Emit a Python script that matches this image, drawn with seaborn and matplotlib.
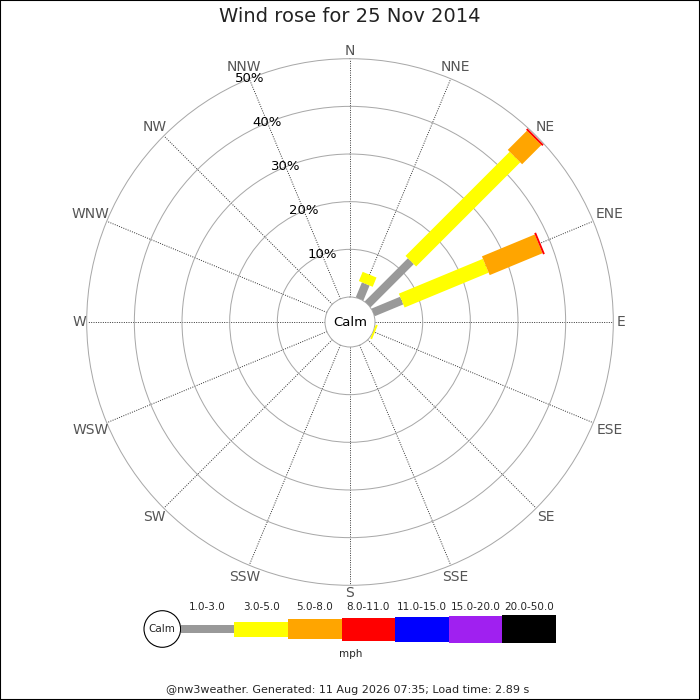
import numpy as np
import matplotlib
matplotlib.use('Agg')
import matplotlib.pyplot as plt
from matplotlib.patches import Circle, Rectangle
import seaborn as sns

sns.set_style('white')
plt.rcParams['font.family'] = ['DejaVu Sans']

# ---- data (percent of the day, per direction and speed class) ----
DIRS = ['N', 'NNE', 'NE', 'ENE', 'E', 'ESE', 'SE', 'SSE',
        'S', 'SSW', 'SW', 'WSW', 'W', 'WNW', 'NW', 'NNW']
SPEED_CLASSES = ['1.0-3.0', '3.0-5.0', '5.0-8.0', '8.0-11.0',
                 '11.0-15.0', '15.0-20.0', '20.0-50.0']
spd_1_3   = [0, 3.4, 12.8, 6.5, 0, 0.0, 0, 0, 0, 0, 0, 0, 0, 0, 0, 0]
spd_3_5   = [0, 2.1, 30.9, 19.1, 0, 0.4, 0, 0, 0, 0, 0, 0, 0, 0, 0, 0]
spd_5_8   = [0, 0.0, 5.7, 12.0, 0, 0.0, 0, 0, 0, 0, 0, 0, 0, 0, 0, 0]
spd_8_11  = [0, 0.0, 0.4, 0.4, 0, 0.0, 0, 0, 0, 0, 0, 0, 0, 0, 0, 0]
spd_11_15 = [0] * 16
spd_15_20 = [0] * 16
spd_20_50 = [0] * 16
RINGS = [10, 20, 30, 40, 50]

series = [spd_1_3, spd_3_5, spd_5_8, spd_8_11, spd_11_15, spd_15_20, spd_20_50]

# ---- styles ----
COLORS = ['#999999', '#ffff00', '#ffa500', '#ff0000', '#0000ff', '#a020f0', '#000000']
THICK_PX = [8.3, 15, 20.3, 23, 25, 27, 28.7]
PX2PT = 0.72

W, H = 700, 700
fig = plt.figure(figsize=(7, 7), dpi=100)

# polar rose: centre (350, 322) px, 50% ring at 263.3 px, calm hole 25 px
cx, cy, R, HOLE = 350, 322, 263.3, 25
ax = fig.add_axes([(cx - R) / W, (H - cy - R) / H, 2 * R / W, 2 * R / H],
                  projection='polar')
ax.set_theta_zero_location('N')
ax.set_theta_direction(-1)
ax.set_ylim(0, 50)
r0 = -50 * HOLE / (R - HOLE)
ax.set_rorigin(r0)


def px_to_r(px):
    return px / R * (50 - r0) + r0


theta = np.deg2rad(np.arange(len(DIRS)) * 22.5)
ax.set_xticks(theta)
ax.set_xticklabels([])
ax.set_yticks(RINGS[:-1])
ax.set_yticklabels([])
ax.xaxis.grid(True, color='#333333', linestyle=(0, (1, 1.4)), linewidth=0.7)
ax.yaxis.grid(True, color='#a8a8a8', linestyle='-', linewidth=0.72)
for name, sp in ax.spines.items():
    sp.set_color('#a8a8a8')
    sp.set_linewidth(0.72)

# compass labels, set just outside the outer ring
for t, lab in zip(theta, DIRS):
    half = abs(np.sin(t)) * 4.8 * len(lab) + abs(np.cos(t)) * 5
    ax.text(t, px_to_r(266 + half), lab, ha='center', va='center',
            fontsize=10, color='#555555')

bottom = np.zeros(len(DIRS))
for vals, col, t in zip(series, COLORS, THICK_PX):
    vals = np.asarray(vals, dtype=float)
    m = vals > 0
    if m.any():
        ax.vlines(theta[m], bottom[m], bottom[m] + vals[m], colors=col,
                  linewidth=t * PX2PT, capstyle='butt', zorder=3)
    bottom += vals

for p in RINGS:
    ax.text(np.deg2rad(337.5), p, f'{p}%', ha='center', va='center',
            fontsize=9.5, color='black', zorder=4)

ax.text(0.5, 0.5, 'Calm', transform=ax.transAxes, ha='center', va='center',
        fontsize=9.5, color='black')

# ---- legend strip (pixel coordinates) ----
lg = fig.add_axes([0, 0, 1, 1])
lg.set_xlim(0, W)
lg.set_ylim(H, 0)
lg.axis('off')
lg.patch.set_alpha(0)

ly = 629
lg.add_patch(Circle((162.3, ly), 18.3, facecolor='white', edgecolor='black', lw=0.8))
lg.text(162.3, ly, 'Calm', ha='center', va='center', fontsize=7.5)
seg_w = 53.6
lefts = 180.7 + seg_w * np.arange(len(SPEED_CLASSES))
th = np.array(THICK_PX)
lg.bar(lefts, th, width=seg_w, bottom=ly - th / 2, align='edge',
       color=COLORS, linewidth=0)
for x0, lab in zip(lefts, SPEED_CLASSES):
    lg.text(x0 + seg_w / 2, 606.5, lab, ha='center', va='center', fontsize=7.5)
lg.text(350.5, 654, 'mph', ha='center', va='center', fontsize=7.5)

fig.text(0.5, 1 - 16.5 / H, 'Wind rose for 25 Nov 2014', ha='center', va='center',
         fontsize=14, color='#222222')
fig.text(348 / W, 1 - 690 / H,
         '@nw3weather. Generated: 11 Aug 2026 07:35; Load time: 2.89 s',
         ha='center', va='center', fontsize=8)

fig.patches.append(Rectangle((0, 0), 1, 1, transform=fig.transFigure, fill=False,
                             edgecolor='black', linewidth=1.5))

fig.savefig('out.png', dpi=100)
